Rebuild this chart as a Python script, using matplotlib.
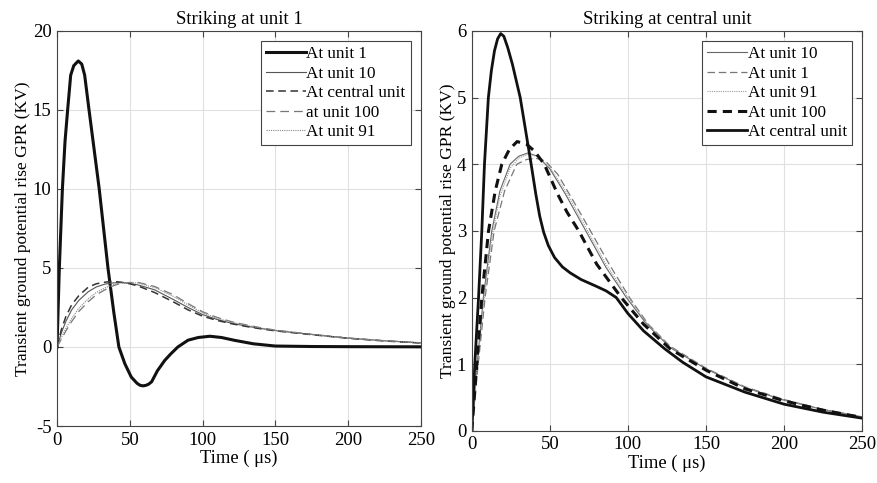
import numpy as np
import matplotlib
matplotlib.use("Agg")
import matplotlib.pyplot as plt

plt.rcParams['font.family'] = ['Liberation Serif', 'DejaVu Serif']
plt.rcParams['axes.unicode_minus'] = False

# ---- left panel: striking at unit 1 ----
t_u1 = [0, 1.6, 3.7, 5.5, 7.3, 9.4, 11.5, 14.6, 17, 19, 22, 25.5, 29, 32, 35, 39, 42.5,
        46.6, 51, 55, 57, 59, 61, 63, 65, 69, 74, 78, 83, 90, 97, 105, 113, 122, 135,
        150, 175, 200, 250]
v_u1 = [0, 5, 10, 13, 15, 17.2, 17.8, 18.1, 17.9, 17.2, 15, 12.5, 10, 7.5, 5, 2.2, 0,
        -1.06, -1.9, -2.3, -2.42, -2.46, -2.43, -2.35, -2.2, -1.5, -0.85, -0.45, 0,
        0.43, 0.6, 0.68, 0.6, 0.42, 0.2, 0.06, 0.03, 0.02, 0.01]

t_l = [0, 3, 6, 10, 15, 21.5, 27, 33, 38, 44, 50, 56, 67, 80, 90, 100, 110, 120, 130,
       140, 150, 175, 200, 225, 250]
l_central = [0, 1.1, 1.9, 2.66, 3.25, 3.79, 4.0, 4.1, 4.15, 4.1, 4.0, 3.85, 3.45, 2.85,
             2.35, 1.95, 1.68, 1.47, 1.3, 1.15, 1.02, 0.78, 0.55, 0.38, 0.25]
l_u10 = [0, 0.9, 1.6, 2.34, 2.95, 3.5, 3.8, 3.98, 4.05, 4.08, 4.02, 3.92, 3.62, 3.0,
         2.5, 2.05, 1.74, 1.5, 1.32, 1.17, 1.04, 0.79, 0.56, 0.39, 0.26]
l_u100 = [0, 0.5, 1.0, 1.6, 2.25, 2.87, 3.3, 3.62, 3.85, 4.04, 4.08, 4.08, 3.83, 3.3,
          2.75, 2.23, 1.87, 1.6, 1.4, 1.22, 1.07, 0.8, 0.57, 0.4, 0.27]
l_u91 = [0, 0.6, 1.15, 1.8, 2.45, 3.05, 3.45, 3.74, 3.93, 4.06, 4.08, 4.04, 3.76, 3.2,
         2.66, 2.16, 1.82, 1.57, 1.37, 1.2, 1.05, 0.79, 0.56, 0.39, 0.26]

# ---- right panel: striking at central unit ----
t_c = [0, 1.9, 4.3, 6.4, 8.1, 10.6, 12.5, 14.5, 16.5, 18.5, 20.5, 23, 26, 29, 31, 34.5,
       38, 41, 43.5, 46, 49, 53, 58, 63, 70, 79.6, 86, 92.5, 100, 110, 123.6, 135, 150,
       175, 200, 225, 250]
r_central = [0, 1, 2, 3, 4, 5, 5.4, 5.7, 5.88, 5.96, 5.92, 5.75, 5.5, 5.2, 5.0, 4.5, 4.0,
             3.55, 3.22, 2.98, 2.78, 2.6, 2.46, 2.37, 2.27, 2.17, 2.1, 2.0, 1.76, 1.5,
             1.23, 1.03, 0.81, 0.58, 0.4, 0.28, 0.19]

t_100 = [0, 3.2, 6.4, 10.7, 15, 19.2, 24, 29, 35, 40, 46.4, 55, 61, 68.5, 80, 95.7, 110,
         127, 150, 175, 200, 225, 250]
r_u100 = [0, 1, 2, 3, 3.6, 4, 4.22, 4.34, 4.3, 4.2, 4.0, 3.55, 3.28, 3.0, 2.5, 2.0, 1.6,
          1.23, 0.91, 0.63, 0.45, 0.31, 0.2]

t_r = [0, 3, 7.4, 12.8, 18, 24.5, 30, 36, 42, 50, 60, 73, 86, 99, 112, 127, 150, 175,
       200, 225, 250]
r_u10 = [0, 0.9, 2, 3, 3.6, 4.0, 4.12, 4.17, 4.12, 3.93, 3.55, 3.0, 2.45, 2.0, 1.6, 1.25,
         0.93, 0.65, 0.46, 0.32, 0.21]
r_u91 = [0, 0.85, 1.9, 2.9, 3.52, 3.94, 4.09, 4.15, 4.12, 3.95, 3.6, 3.05, 2.5, 2.03,
         1.62, 1.26, 0.93, 0.65, 0.46, 0.32, 0.21]

t_1 = [0, 3, 8.5, 14.3, 21, 28.8, 35, 41, 47, 55, 65, 76, 88, 101, 113, 127, 150, 175,
       200, 225, 250]
r_u1 = [0, 0.75, 2, 3, 3.6, 4.0, 4.07, 4.09, 4.05, 3.85, 3.45, 3.0, 2.5, 2.0, 1.6, 1.27,
        0.94, 0.66, 0.47, 0.32, 0.21]

fig = plt.figure(figsize=(8.77, 4.83), dpi=100)
ax1 = fig.add_axes([0.065, 0.118, 0.415, 0.818])
ax2 = fig.add_axes([0.538, 0.108, 0.445, 0.828])

ax1.plot(t_u1, v_u1, color='#111111', lw=2.2, label='At unit 1')
ax1.plot(t_l, l_u10, color='#555555', lw=0.8, label='At unit 10')
ax1.plot(t_l, l_central, color='#333333', lw=1.1, ls=(0, (5, 3)), label='At central unit')
ax1.plot(t_l, l_u100, color='#777777', lw=0.9, ls=(0, (7, 4)), label='at unit 100')
ax1.plot(t_l, l_u91, color='#888888', lw=0.8, ls=(0, (1, 1)), label='At unit 91')
ax1.set_ylim(-5, 20)
ax1.set_yticks(np.arange(-5, 21, 5))
ax1.set_title('Striking at unit 1', fontsize=13.5, pad=5)

ax2.plot(t_r, r_u10, color='#666666', lw=0.8, label='At unit 10')
ax2.plot(t_1, r_u1, color='#777777', lw=0.9, ls=(0, (6, 3)), label='At unit 1')
ax2.plot(t_r, r_u91, color='#999999', lw=0.8, ls=(0, (1, 1)), label='At unit 91')
ax2.plot(t_100, r_u100, color='#111111', lw=2.2, ls=(0, (3, 2)), label='At unit 100')
ax2.plot(t_c, r_central, color='#111111', lw=2.0, label='At central unit')
ax2.set_ylim(0, 6)
ax2.set_yticks(np.arange(0, 7, 1))
ax2.set_title('Striking at central unit', fontsize=13.5, pad=5)

for ax in (ax1, ax2):
    ax.set_xlim(0, 250)
    ax.set_xticks(np.arange(0, 251, 50))
    ax.grid(True, color='#e0e0e0', lw=0.8)
    ax.set_axisbelow(True)
    ax.tick_params(direction='in', top=True, right=True, labelsize=13.5, length=4,
                   color='#444444', pad=4)
    for s in ax.spines.values():
        s.set_color('#444444')
        s.set_linewidth(0.8)
    ax.set_xlabel('Time ( μs)', fontsize=13.4, labelpad=1)
    ax.set_ylabel('Transient ground potential rise GPR (KV)', fontsize=12.6, labelpad=1)
    leg = ax.legend(loc='upper right', fontsize=12.3, handlelength=2.3, handletextpad=0.05,
                    labelspacing=0.2, borderpad=0.3, borderaxespad=0.6,
                    fancybox=False, framealpha=1)
    leg.get_frame().set_edgecolor('#444444')
    leg.get_frame().set_linewidth(0.8)

fig.savefig('out.png', dpi=100)
